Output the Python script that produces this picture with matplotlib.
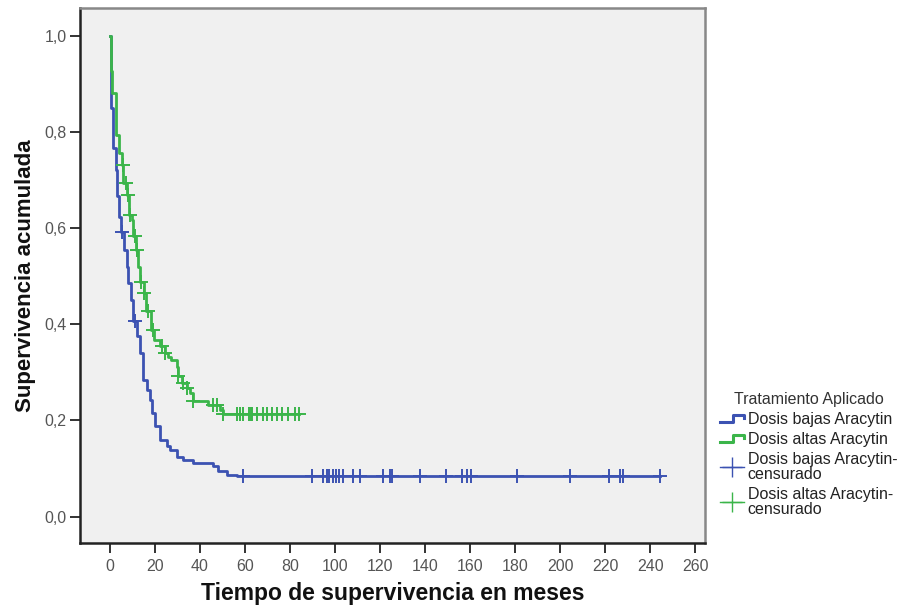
import matplotlib.pyplot as plt
import numpy as np
from matplotlib.lines import Line2D
from matplotlib.legend_handler import HandlerBase

plt.rcParams['font.family'] = ['Liberation Sans', 'DejaVu Sans']

# Kaplan-Meier steps: time of drop (months) and survival after the drop
bajas_t = [0.3, 1.5, 2.5, 3.3, 4.0, 5.0, 6.2, 7.4, 8.1, 9.2, 10.4, 12.1, 13.3,
           14.8, 16.3, 17.8, 18.8, 20.0, 22.2, 25.2, 26.7, 29.6, 32.6, 37.0,
           45.9, 48.1, 51.9, 56.3]
bajas_s = [0.850, 0.766, 0.721, 0.666, 0.624, 0.593, 0.555, 0.520, 0.486, 0.451,
           0.406, 0.375, 0.340, 0.285, 0.264, 0.243, 0.216, 0.188, 0.160, 0.146,
           0.139, 0.125, 0.117, 0.112, 0.105, 0.094, 0.087, 0.085]
bajas_cens = [5.2, 11.1, 59.3, 89.6, 94.5, 96.3, 97.5, 99.0, 100.4, 101.9, 103.4,
              108.1, 111.1, 121.2, 124.4, 125.2, 137.8, 149.3, 156.3, 158.5,
              160.3, 180.7, 204.4, 221.5, 226.4, 228.1, 244.4]

altas_t = [0.3, 1.0, 2.5, 4.1, 5.2, 5.9, 7.4, 8.6, 9.6, 10.4, 11.6, 12.6, 13.5,
           15.1, 16.0, 18.2, 19.6, 22.2, 24.4, 25.9, 27.0, 29.6, 30.4, 31.9,
           34.1, 35.6, 37.0, 43.7, 48.9, 50.4]
altas_s = [0.926, 0.881, 0.794, 0.756, 0.732, 0.694, 0.669, 0.628, 0.617, 0.583,
           0.555, 0.520, 0.489, 0.465, 0.427, 0.389, 0.368, 0.354, 0.340, 0.333,
           0.326, 0.312, 0.292, 0.278, 0.267, 0.257, 0.240, 0.233, 0.222, 0.214]
altas_cens = [5.6, 7.0, 8.1, 8.9, 11.1, 12.1, 13.9, 15.1, 17.0, 19.0, 23.0, 24.4,
              30.4, 32.6, 34.1, 37.0, 45.9, 47.4, 50.4, 56.3, 57.8, 59.3, 61.9,
              62.5, 63.0, 65.2, 67.9, 69.6, 71.9, 74.1, 76.3, 79.3, 82.2, 84.1]

x_ticks = list(range(0, 261, 20))
y_ticks = [0.0, 0.2, 0.4, 0.6, 0.8, 1.0]

azul = '#3c52b2'
verde = '#3bb54a'


def km_line(t, s, cens):
    # curve from (0, 1) through the steps, extended to the last censored case
    tt = np.concatenate([[0], t, [max(cens)]])
    ss = np.concatenate([[1.0], s, [s[-1]]])
    cs = np.concatenate([[1.0], s])
    idx = np.searchsorted(t, cens, side='right')
    return tt, ss, np.array(cens), cs[idx]


class StepHandler(HandlerBase):
    def create_artists(self, legend, orig_handle, xdescent, ydescent,
                       width, height, fontsize, trans):
        xs = np.array([0, 0.55, 0.55, 1.0, 1.0]) * width - xdescent
        ys = np.array([0.2, 0.2, 0.85, 0.85, 0.55]) * height - ydescent
        ln = Line2D(xs, ys, color=orig_handle.get_color(), lw=2.2, transform=trans)
        return [ln]


fig = plt.figure(figsize=(9.06, 6.10), dpi=100)
ax = fig.add_axes([0.0883, 0.1098, 0.690, 0.877])
ax.set_facecolor('#f0f0f0')

tb, sb, cb, csb = km_line(bajas_t, bajas_s, bajas_cens)
ta, sa, ca, csa = km_line(altas_t, altas_s, altas_cens)

ax.step(tb, sb, where='post', color=azul, lw=2.0)
ax.step(ta, sa, where='post', color=verde, lw=2.0)
ax.plot(cb, csb, '+', color=azul, ms=10, mew=1.4)
ax.plot(ca, csa, '+', color=verde, ms=10, mew=1.4)

ax.set_xlim(-13.3, 264.4)
ax.set_ylim(-0.055, 1.058)
ax.set_xticks(x_ticks)
ax.set_yticks(y_ticks)
ax.set_yticklabels([f'{v:.1f}'.replace('.', ',') for v in y_ticks])
ax.tick_params(direction='out', length=7.5, width=1.4, color='#333333',
               labelsize=11.5, labelcolor='#555555', pad=2)
ax.tick_params(axis='x', pad=4)

for side in ['left', 'bottom']:
    ax.spines[side].set_color('#222222')
    ax.spines[side].set_linewidth(1.8)
for side in ['top', 'right']:
    ax.spines[side].set_color('#888888')
    ax.spines[side].set_linewidth(1.8)

ax.set_xlabel('Tiempo de supervivencia en meses', fontsize=16.5, fontweight='bold',
              color='#111111', labelpad=6)
ax.set_ylabel('Supervivencia acumulada', fontsize=16, fontweight='bold',
              color='#111111', labelpad=6)

h1 = Line2D([], [], color=azul)
h2 = Line2D([], [], color=verde)
h3 = Line2D([], [], color=azul, marker='+', ms=14, mew=1, lw=1)
h4 = Line2D([], [], color=verde, marker='+', ms=14, mew=1, lw=1)
leg = fig.legend([h1, h2, h3, h4],
                 ['Dosis bajas Aracytin', 'Dosis altas Aracytin',
                  'Dosis bajas Aracytin-\ncensurado', 'Dosis altas Aracytin-\ncensurado'],
                 title='Tratamiento Aplicado', loc='upper left',
                 bbox_to_anchor=(0.782, 0.375), frameon=False, fontsize=11.5,
                 title_fontsize=11.5, handlelength=1.5, handletextpad=0.25,
                 labelspacing=0.3, borderpad=0.2,
                 handler_map={h1: StepHandler(), h2: StepHandler()})
for t in leg.get_texts():
    t.set_color('#222222')
    t.set_linespacing(1.0)
leg.get_title().set_color('#333333')

fig.savefig('out.png', dpi=100)
